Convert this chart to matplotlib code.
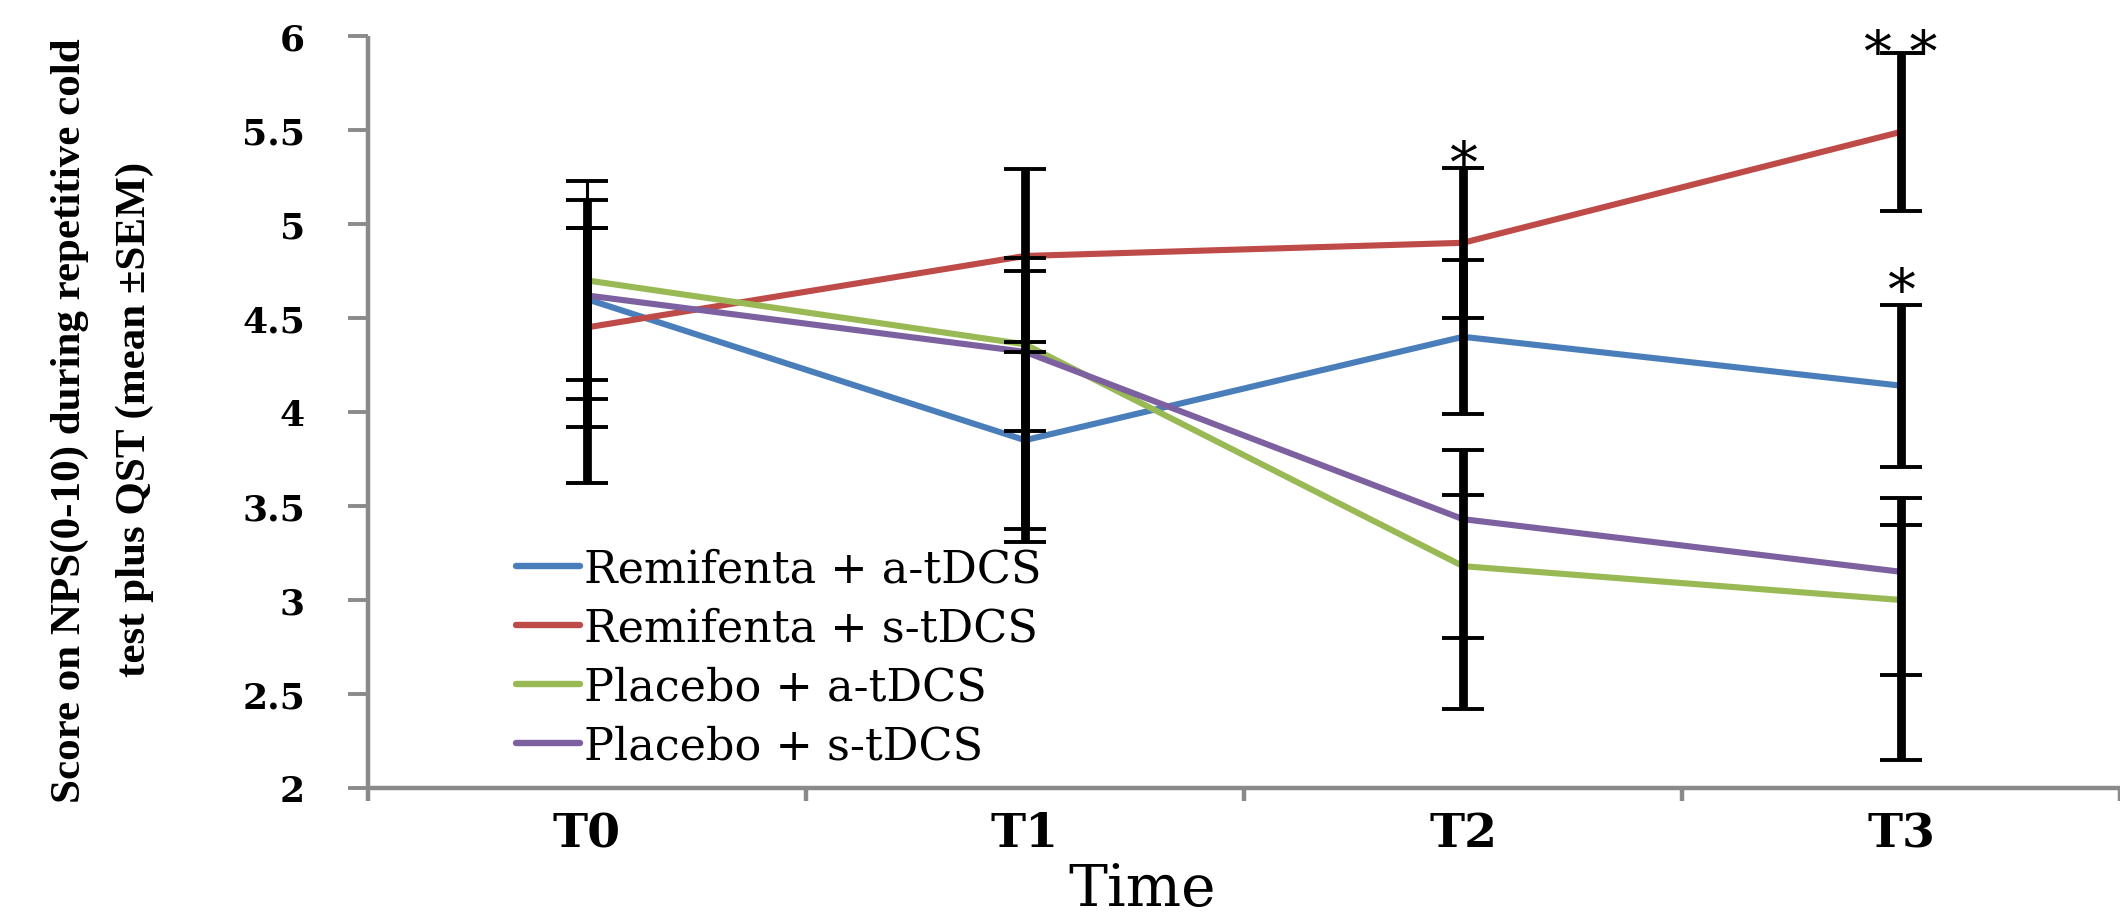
import matplotlib
matplotlib.use('Agg')
import matplotlib.pyplot as plt
import numpy as np

# ---------------- data ----------------
categories = ['T0', 'T1', 'T2', 'T3']
series_names = ['Remifenta + a-tDCS', 'Remifenta + s-tDCS',
                'Placebo + a-tDCS', 'Placebo + s-tDCS']

remi_a_mean = [4.60, 3.85, 4.40, 4.14]
remi_a_err_plus = [0.53, 0.47, 0.41, 0.43]
remi_a_err_minus = [0.53, 0.47, 0.41, 0.43]

remi_s_mean = [4.45, 4.83, 4.90, 5.49]
remi_s_err_plus = [0.53, 0.46, 0.40, 0.42]
remi_s_err_minus = [0.53, 0.46, 0.40, 0.42]

plac_a_mean = [4.70, 4.36, 3.18, 3.00]
plac_a_err_plus = [0.53, 0.46, 0.38, 0.40]
plac_a_err_minus = [0.53, 0.46, 0.38, 0.40]

plac_s_mean = [4.62, 4.32, 3.43, 3.15]
plac_s_err_plus = [0.36, 0.43, 0.37, 0.39]
plac_s_err_minus = [1.00, 1.01, 1.01, 1.00]

y_ticks = [2, 2.5, 3, 3.5, 4, 4.5, 5, 5.5, 6]

# significance marks: (time index, series index, label, offset in points)
sig_time = [2, 3, 3]
sig_series = [1, 1, 0]
sig_label = ['*', '* *', '*']
sig_offset = [-9.5, -12.5, -2.5]

# ---------------- style ----------------
colors = ['#4A7EBB', '#BE4B48', '#98B954', '#7D60A0']
bar_widths = [6.3, 6.3, 2.2, 6.3]
axis_gray = '#8A8A8A'
W, H = 2120, 920

means = [remi_a_mean, remi_s_mean, plac_a_mean, plac_s_mean]
plus = [remi_a_err_plus, remi_s_err_plus, plac_a_err_plus, plac_s_err_plus]
minus = [remi_a_err_minus, remi_s_err_minus, plac_a_err_minus, plac_s_err_minus]

fig = plt.figure(figsize=(W / 100, H / 100), dpi=100)
ax = fig.add_axes([368 / W, 131 / H, 1 - 368 / W, 752 / H])

x = np.arange(len(categories))
for m, c, name in zip(means, colors, series_names):
    ax.plot(x, m, color=c, lw=4.4, label=name, solid_capstyle='round',
            solid_joinstyle='round', zorder=2)
for m, p, mi, bw in zip(means, plus, minus, bar_widths):
    ax.errorbar(x, m, yerr=[mi, p], fmt='none', ecolor='black',
                elinewidth=bw, capsize=15, capthick=2.8, zorder=3)

for ti, si, lab, off in zip(sig_time, sig_series, sig_label, sig_offset):
    top = means[si][ti] + plus[si][ti]
    ax.annotate(lab, xy=(x[ti], top), xytext=(0, off),
                textcoords='offset points', ha='center', va='baseline',
                fontsize=40, family='DejaVu Serif', color='black', zorder=4)

ax.set_ylim(2, 6)
ax.set_xlim(-0.5, 3.5 - 8 / 440)
ax.set_yticks(y_ticks)
ax.set_yticklabels([f'{v:g}' for v in y_ticks])
ax.set_xticks(x)
ax.set_xticklabels(categories)
ax.set_xticks(np.arange(-0.5, 4.0, 1.0), minor=True)

for s in ['top', 'right']:
    ax.spines[s].set_visible(False)
for s in ['left', 'bottom']:
    ax.spines[s].set_color(axis_gray)
    ax.spines[s].set_linewidth(3.2)
    ax.spines[s].set_capstyle('butt')

ax.tick_params(axis='y', which='major', direction='out', length=14.4,
               width=2.8, color=axis_gray, pad=31, labelsize=26)
ax.tick_params(axis='x', which='major', length=0, pad=16, labelsize=34)
ax.tick_params(axis='x', which='minor', direction='out', length=9,
               width=3.2, color=axis_gray)
for lbl in ax.get_yticklabels() + ax.get_xticklabels():
    lbl.set_fontfamily('DejaVu Serif')
    lbl.set_fontweight('bold')

leg = ax.legend(loc='upper left', bbox_to_anchor=(516 / W, 1 - 548 / H),
                bbox_transform=fig.transFigure, frameon=False,
                prop=dict(family='DejaVu Serif', size=32),
                handlelength=1.45, handletextpad=0.07, labelspacing=0.36,
                borderpad=0, borderaxespad=0)
for h in leg.get_lines():
    h.set_linewidth(4.6)
    h.set_solid_capstyle('round')

fig.text(70 / W, 1 - 421 / H, 'Score on NPS(0-10) during repetitive cold',
         rotation=90, ha='center', va='center', fontsize=31,
         family='Liberation Serif', fontweight='bold')
fig.text(135 / W, 1 - 419 / H, 'test plus QST (mean \u00b1SEM)',
         rotation=90, ha='center', va='center', fontsize=31,
         family='Liberation Serif', fontweight='bold')
fig.text(1142 / W, 1 - 906 / H, 'Time', ha='center', va='baseline',
         fontsize=42, family='DejaVu Serif')

fig.savefig('out.png', dpi=100, facecolor='white')
